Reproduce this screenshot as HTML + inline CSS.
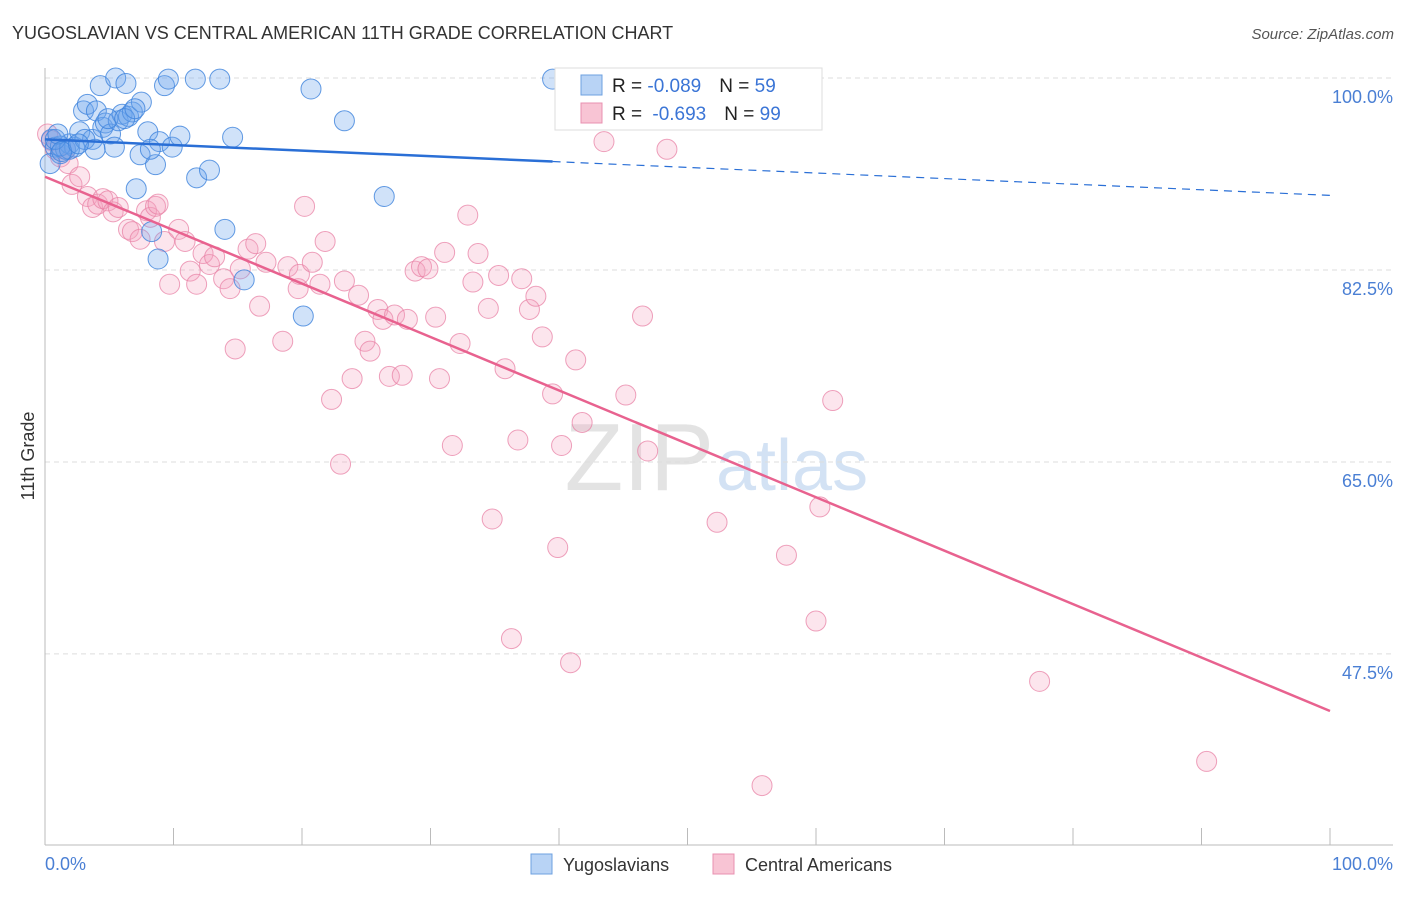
<!DOCTYPE html>
<html><head><meta charset="utf-8"><style>
body{margin:0;background:#fff;font-family:"Liberation Sans",sans-serif;}
svg text{font-family:"Liberation Sans",sans-serif;}
</style></head><body>
<svg id="chart" width="1406" height="892" viewBox="0 0 1406 892" xmlns="http://www.w3.org/2000/svg">
<text x="12" y="39" font-size="18" fill="#333">YUGOSLAVIAN VS CENTRAL AMERICAN 11TH GRADE CORRELATION CHART</text>
<text x="1394" y="39" font-size="15" fill="#555" text-anchor="end" font-style="italic">Source: ZipAtlas.com</text>
<text x="714" y="490" font-size="96" text-anchor="end" fill="#ddd" font-family="Liberation Serif" opacity="0.8">ZIP</text>
<text x="716" y="490" font-size="72" fill="#c9dcf2" opacity="0.8">atlas</text>
<g id="grid"></g>
<g id="axes"></g>
<g id="pts"></g>
<g id="lines"></g>
<text transform="translate(34,456) rotate(-90)" font-size="18" fill="#333" text-anchor="middle">11th Grade</text>
<text x="45" y="870" font-size="18" fill="#4a7fd4">0.0%</text>
<text x="1393" y="870" font-size="18" fill="#4a7fd4" text-anchor="end">100.0%</text>
<g>
<rect x="555" y="68" width="267" height="62" fill="#fff" stroke="#ddd"/>
<rect x="581" y="75" width="21" height="20" fill="#b8d3f5" stroke="#6ea0e0"/>
<text x="612" y="92" font-size="19" fill="#222">R = <tspan fill="#3b75d6">-0.089</tspan><tspan dx="18">N = </tspan><tspan fill="#3b75d6">59</tspan></text>
<rect x="581" y="103" width="21" height="20" fill="#f8c4d4" stroke="#e890b0"/>
<text x="612" y="120" font-size="19" fill="#222">R = <tspan fill="#3b75d6" dx="5">-0.693</tspan><tspan dx="18">N = </tspan><tspan fill="#3b75d6">99</tspan></text>
</g>
<g>
<rect x="531" y="854" width="21" height="20" fill="#b8d3f5" stroke="#6ea0e0"/>
<text x="563" y="871" font-size="18" fill="#333">Yugoslavians</text>
<rect x="713" y="854" width="21" height="20" fill="#f8c4d4" stroke="#e890b0"/>
<text x="745" y="871" font-size="18" fill="#333">Central Americans</text>
</g>
</svg>
<script>
const yTicks=[100,82.5,65,47.5];
const yTickLabels=["100.0%","82.5%","65.0%","47.5%"];
const blueX=[0.5,0.8,1.2,1.6,1.9,2.3,2.7,3.0,3.3,3.7,4.0,4.3,4.5,4.7,5.1,5.4,5.5,5.7,6.0,6.3,6.5,6.8,7.1,7.4,7.5,8.0,8.3,8.6,8.8,8.9,9.3,9.6,9.9,10.5,11.7,11.8,12.8,13.6,14.0,14.6,15.5,20.1,20.7,23.3,26.4,39.5,0.4,1.2,1.9,3.1,3.9,4.9,6.2,7.0,8.2,0.8,1.0,1.3,2.6];
const blueY=[94.4,93.7,93.1,93.5,94.0,93.7,95.1,97.0,97.6,94.4,97.0,99.3,95.5,95.9,94.9,93.7,100,96.1,96.7,99.5,96.5,96.9,89.9,93.0,97.8,95.1,86.0,92.1,83.5,94.2,99.3,99.9,93.7,94.7,99.9,90.9,91.6,99.9,86.2,94.6,81.6,78.3,99.0,96.1,89.2,99.9,92.2,93.8,93.5,94.4,93.5,96.3,96.3,97.2,93.5,94.4,94.9,93.3,94.0];
const pinkX=[0.2,0.5,0.8,1.2,1.6,1.8,2.1,2.7,3.3,3.7,4.1,4.5,4.9,5.3,5.7,6.5,6.8,7.4,7.9,8.2,8.6,8.8,9.3,9.7,10.4,10.9,11.3,11.8,12.3,12.8,13.2,13.9,14.4,14.8,15.2,15.8,16.4,16.7,17.2,18.5,18.9,19.7,19.8,20.2,20.8,21.4,21.8,22.3,23.0,23.3,23.9,24.4,24.9,25.3,25.9,26.3,26.8,27.2,27.8,28.2,28.8,29.3,29.8,30.4,30.7,31.1,31.7,32.3,32.9,33.3,33.7,34.5,34.8,35.3,35.8,36.3,36.8,37.1,37.7,38.2,38.7,39.5,39.9,40.2,40.9,41.3,41.8,43.5,45.2,46.5,46.9,48.4,52.3,57.7,60.0,60.3,61.3,77.4,90.4,55.8];
const pinkY=[94.9,94.3,93.5,92.8,93.5,92.2,90.3,91.0,89.2,88.2,88.5,89.0,88.8,87.8,88.2,86.2,86.0,85.3,87.9,87.3,88.3,88.5,85.1,81.2,86.2,85.1,82.4,81.2,84.0,83.0,83.7,81.7,80.8,75.3,82.6,84.4,84.9,79.2,83.2,76.0,82.8,80.8,82.1,88.3,83.2,81.2,85.1,70.7,64.8,81.5,72.6,80.2,76.0,75.1,78.9,78.0,72.8,78.4,72.9,78.0,82.4,82.8,82.6,78.2,72.6,84.1,66.5,75.8,87.5,81.4,84.0,79.0,59.8,82.0,73.5,48.9,67.0,81.7,78.9,80.1,76.4,71.2,57.2,66.5,46.7,74.3,68.6,94.2,71.1,78.3,66.0,93.5,59.5,56.5,50.5,60.9,70.6,45.0,37.7,35.5];
// trend line coefficients [intercept, slope] as shown in the chart
const blueTrend=[94.4,-0.051];
const pinkTrend=[91.0,-0.487];
const NS="http://www.w3.org/2000/svg";
const X0=45,X1=1330,YTOP=78,PXPER=10.97;
function sx(v){return X0+(X1-X0)*v/100;}
function sy(v){return YTOP+(100-v)*PXPER;}
function mk(tag,attrs,parent){const e=document.createElementNS(NS,tag);for(const k in attrs)e.setAttribute(k,attrs[k]);parent.appendChild(e);return e;}
const grid=document.getElementById('grid'),axes=document.getElementById('axes'),pts=document.getElementById('pts'),lines=document.getElementById('lines');
yTicks.forEach((t,i)=>{
  const l=mk('line',{x1:45,x2:1393,y1:sy(t),y2:sy(t),stroke:'#ddd','stroke-dasharray':'5,4'},grid);
  
  
  const tx=mk('text',{x:1393,y:sy(t)+25,'font-size':18,fill:'#4a7fd4','text-anchor':'end'},grid);
  tx.textContent=yTickLabels[i];
  
  
});
const ya=mk('line',{x1:45,x2:45,y1:68,y2:845,stroke:'#bbb'},axes);


const xa=mk('line',{x1:45,x2:1393,y1:845,y2:845,stroke:'#bbb'},axes);


for(let i=0;i<=10;i++){
  const t=mk('line',{x1:sx(i*10),x2:sx(i*10),y1:828,y2:845,stroke:'#bbb'},axes);
  
  
}
function drawPts(xs,ys,fill,stroke,name){
  xs.forEach((x,i)=>{
    const c=mk('circle',{cx:sx(x),cy:sy(ys[i]),r:10,fill:fill,stroke:stroke,'stroke-width':1},pts);
    
    
  });
}
drawPts(pinkX,pinkY,'rgba(244,160,190,0.28)','rgba(232,130,165,0.75)','central-american-point');
drawPts(blueX,blueY,'rgba(110,165,235,0.32)','rgba(60,130,220,0.8)','yugoslavian-point');
const bmax=Math.max(...blueX);
const b1=mk('line',{x1:sx(0),y1:sy(blueTrend[0]),x2:sx(bmax),y2:sy(blueTrend[0]+blueTrend[1]*bmax),stroke:'#2a6fd6','stroke-width':2.5},lines);


const b2=mk('line',{x1:sx(bmax),y1:sy(blueTrend[0]+blueTrend[1]*bmax),x2:sx(100),y2:sy(blueTrend[0]+blueTrend[1]*100),stroke:'#2a6fd6','stroke-width':1.2,'stroke-dasharray':'8,6'},lines);


const p1=mk('line',{x1:sx(0),y1:sy(pinkTrend[0]),x2:sx(100),y2:sy(pinkTrend[0]+pinkTrend[1]*100),stroke:'#e8628f','stroke-width':2.5},lines);


</script>
</body></html>
